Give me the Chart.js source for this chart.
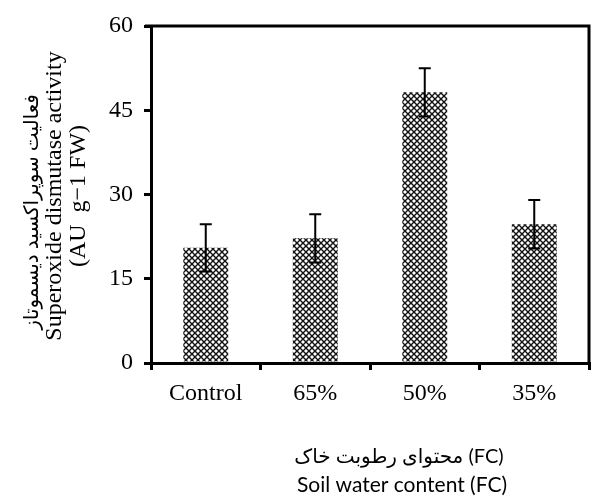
<!DOCTYPE html>
<html>
<head>
<meta charset="utf-8">
<script src="https://cdn.jsdelivr.net/npm/chart.js@4.4.0/dist/chart.umd.min.js"></script>
<style>
  html, body { margin: 0; padding: 0; background: #fff; }
  #wrap { width: 592px; height: 502px; }
</style>
</head>
<body>
<div id="wrap"><canvas id="sodChart" width="592" height="502"></canvas></div>
<script>
// data
const categories = ['Control', '65%', '50%', '35%'];
const sodActivity = [20.5, 22.2, 48.2, 24.7];
const sodError = [4.2, 4.3, 4.3, 4.3];
const yTicks = [0, 15, 30, 45, 60];

const yTitleFa = 'فعالیت سوپراکسید دیسموتاز';
const yTitleEn = 'Superoxide dismutase activity';
const yTitleUnit = '(AU  g\u22121 FW)';
const xTitleFa = 'محتوای رطوبت خاک (FC)';
const xTitleEn = 'Soil water content (FC)';

const serif = '"Liberation Serif", "Times New Roman", serif';

// black/white cross-hatch like the printed bars
function makePattern() {
    const c = document.createElement('canvas');
    c.width = 6;
    c.height = 6;
    const g = c.getContext('2d');
    g.fillStyle = '#fff';
    g.fillRect(0, 0, 6, 6);
    g.strokeStyle = '#111';
    g.lineWidth = 1.4;
    g.beginPath();
    g.moveTo(0, 0); g.lineTo(6, 6);
    g.moveTo(6, 0); g.lineTo(0, 6);
    g.stroke();
    return document.getElementById('sodChart').getContext('2d').createPattern(c, 'repeat');
}

const errorBars = {
    id: 'errorBars',
    afterDatasetsDraw(chart) {
        const ctx = chart.ctx;
        const y = chart.scales.y;
        const meta = chart.getDatasetMeta(0);
        ctx.save();
        ctx.strokeStyle = '#000';
        ctx.lineWidth = 2;
        meta.data.forEach((bar, i) => {
            const top = y.getPixelForValue(sodActivity[i] + sodError[i]);
            const bot = y.getPixelForValue(sodActivity[i] - sodError[i]);
            ctx.beginPath();
            ctx.moveTo(bar.x, top); ctx.lineTo(bar.x, bot);
            ctx.moveTo(bar.x - 6, top); ctx.lineTo(bar.x + 6, top);
            ctx.moveTo(bar.x - 6, bot); ctx.lineTo(bar.x + 6, bot);
            ctx.stroke();
        });
        ctx.restore();
    }
};

const frameAndTitles = {
    id: 'frameAndTitles',
    afterDraw(chart) {
        const ctx = chart.ctx;
        const a = chart.chartArea;
        ctx.save();
        // top and right border of the plot box
        ctx.strokeStyle = '#000';
        ctx.lineWidth = 3;
        ctx.beginPath();
        ctx.moveTo(a.left - 6, a.top);
        ctx.lineTo(a.right, a.top);
        ctx.lineTo(a.right, a.bottom);
        ctx.stroke();

        // y title, three rotated lines
        ctx.fillStyle = '#000';
        ctx.textAlign = 'center';
        ctx.textBaseline = 'middle';
        ctx.translate(0, 196);
        ctx.rotate(-Math.PI / 2);
        ctx.font = '20px ' + serif + ', "DejaVu Sans"';
        ctx.fillText(yTitleFa, -16, 33);
        ctx.font = '24px ' + serif;
        ctx.fillText(yTitleEn, 0, 55);
        ctx.fillText(yTitleUnit, 0, 79);
        ctx.restore();

        // x title, two lines
        ctx.save();
        ctx.fillStyle = '#000';
        ctx.textAlign = 'center';
        ctx.textBaseline = 'middle';
        ctx.font = '20px Lato, "DejaVu Sans", sans-serif';
        ctx.fillText(xTitleFa, 399, 457);
        ctx.font = '21px Lato, "DejaVu Sans", sans-serif';
        ctx.fillText(xTitleEn, 402, 485);
        ctx.restore();
    }
};

new Chart(document.getElementById('sodChart'), {
    type: 'bar',
    data: {
        labels: categories,
        datasets: [{
            data: sodActivity,
            backgroundColor: makePattern(),
            borderWidth: 0,
            categoryPercentage: 1,
            barPercentage: 0.41
        }]
    },
    options: {
        responsive: false,
        animation: false,
        layout: { padding: { left: 0, top: 26, right: 3, bottom: 0 } },
        plugins: {
            legend: { display: false },
            tooltip: { enabled: false }
        },
        scales: {
            x: {
                afterFit(scale) { scale.height = 139; },
                border: { display: true, color: '#000', width: 3 },
                grid: {
                    offset: true,
                    drawOnChartArea: false,
                    drawTicks: true,
                    tickLength: 7,
                    color: '#000',
                    lineWidth: 3
                },
                ticks: {
                    color: '#000',
                    padding: 9,
                    font: { family: serif, size: 24 }
                }
            },
            y: {
                min: 0,
                max: 60,
                afterFit(scale) { scale.width = 151; },
                afterBuildTicks(scale) { scale.ticks = yTicks.map(v => ({ value: v })); },
                border: { display: true, color: '#000', width: 3 },
                grid: {
                    drawOnChartArea: false,
                    drawTicks: true,
                    tickLength: 7,
                    color: '#000',
                    lineWidth: 3
                },
                ticks: {
                    color: '#000',
                    padding: 11,
                    font: { family: serif, size: 24 }
                }
            }
        }
    },
    plugins: [errorBars, frameAndTitles]
});
</script>
</body>
</html>
